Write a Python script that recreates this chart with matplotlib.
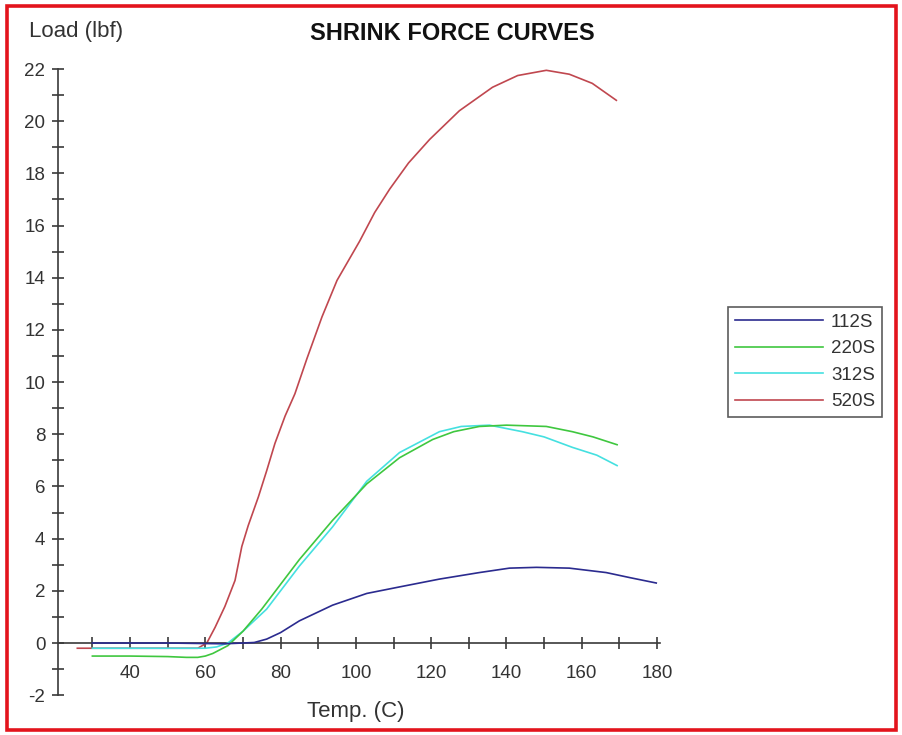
"""
Shrink force curves: load (lbf) vs temperature (C) for four tubing grades.
Values read off the reference chart.
"""

import matplotlib
matplotlib.use("Agg")
import matplotlib.pyplot as plt
from matplotlib.patches import Rectangle

# ── Data ─────────────────────────────────────────────────────────────────────

temp_112 = [30, 40, 50, 60, 65, 70, 73, 76.3, 80, 85, 93.8, 102.9, 111.6,
            122.2, 132.8, 140.8, 148, 156.7, 166.5, 173, 179.8]
load_112 = [0.0, 0.0, 0.0, -0.02, -0.03, 0.0, 0.02, 0.15, 0.4, 0.85, 1.45, 1.9, 2.15,
            2.45, 2.7, 2.87, 2.9, 2.87, 2.7, 2.5, 2.3]

temp_220 = [30, 40, 50, 55, 58, 60, 62, 64, 66, 70, 75, 80, 85, 93.8,
            102.9, 111.6, 120.4, 126, 132.8, 140, 150.6, 157.5, 163, 169.4]
load_220 = [-0.5, -0.5, -0.52, -0.55, -0.55, -0.5, -0.4, -0.25, -0.1, 0.45, 1.3,
            2.25, 3.2, 4.7, 6.1, 7.1, 7.8, 8.1, 8.3, 8.35, 8.3, 8.1, 7.9, 7.6]

temp_312 = [30, 40, 50, 60, 63, 66, 70, 76.3, 85, 93.8, 102.9, 111.6,
            122.2, 128, 135.5, 144.2, 150, 157.5, 164, 169.4]
load_312 = [-0.2, -0.2, -0.2, -0.2, -0.15, 0.0, 0.45, 1.3, 2.95, 4.45, 6.2, 7.3,
            8.1, 8.3, 8.35, 8.1, 7.9, 7.5, 7.2, 6.8]

temp_520 = [26, 30, 40, 50, 58, 60.4, 62.6, 65.2, 67.9, 69.7, 71.4, 74.1,
            76.3, 78.5, 81.2, 83.8, 87, 91, 95, 101, 105, 109, 114, 119.6,
            127.5, 136.3, 143, 150.6, 156.7, 162.8, 169.2]
load_520 = [-0.2, -0.2, -0.2, -0.2, -0.2, 0.0, 0.6, 1.4, 2.4, 3.7, 4.5, 5.6,
            6.6, 7.65, 8.7, 9.55, 10.9, 12.5, 13.9, 15.4, 16.5, 17.4, 18.4,
            19.3, 20.4, 21.3, 21.75, 21.95, 21.8, 21.45, 20.8]

SERIES = [
    ("112S", temp_112, load_112, "#2b2b8f", 5),
    ("220S", temp_220, load_220, "#3fc73f", 4),
    ("312S", temp_312, load_312, "#45e0e0", 3),
    ("520S", temp_520, load_520, "#c0474f", 2),
]

X_TICKS = [40, 60, 80, 100, 120, 140, 160, 180]
X_MINOR = [30, 50, 70, 90, 110, 130, 150, 170]
Y_TICKS = list(range(-2, 23, 2))
Y_MINOR = list(range(-1, 22, 2))

# ── Figure ───────────────────────────────────────────────────────────────────

W, H = 902, 735
plt.rcParams["font.family"] = ["Liberation Sans", "DejaVu Sans"]
plt.rcParams["axes.unicode_minus"] = False

fig = plt.figure(figsize=(W / 100, H / 100), dpi=100)
fig.patch.set_facecolor("white")

# axes box in pixel terms: x 21 -> px 58.5, y -2 -> px 695, y 22 -> px 69
left, right, top, bottom = 58.5, 660.0, 69.0, 695.2
ax = fig.add_axes([left / W, 1 - bottom / H, (right - left) / W, (bottom - top) / H])

for name, t, load, col, z in SERIES:
    ax.plot(t, load, color=col, lw=1.2, label=name, zorder=z)

ax.set_xlim(21, 180.8)
ax.set_ylim(-2, 22)

ax.spines["top"].set_visible(False)
ax.spines["right"].set_visible(False)
ax.spines["bottom"].set_position(("data", 0))
for s in ("left", "bottom"):
    ax.spines[s].set_color("#3a3a3a")
    ax.spines[s].set_linewidth(1.2)

ax.set_xticks(X_TICKS)
ax.set_xticks(X_MINOR, minor=True)
ax.set_yticks(Y_TICKS)
ax.set_yticks(Y_MINOR, minor=True)
ax.tick_params(which="both", direction="inout", length=9, width=1.2,
               color="#3a3a3a", labelsize=13.5, labelcolor="#333333")
ax.tick_params(axis="x", which="major", pad=11)
ax.tick_params(axis="y", which="major", pad=5)

# texts
fig.text(29 / W, 1 - 32 / H, "Load (lbf)", fontsize=16, color="#333333",
         ha="left", va="center")
fig.text(452 / W, 1 - 33 / H, "SHRINK FORCE CURVES", fontsize=17,
         fontweight="bold", color="#111111", ha="center", va="center")
fig.text(356 / W, 1 - 712 / H, "Temp. (C)", fontsize=16, color="#333333",
         ha="center", va="center")

leg = ax.legend(loc="upper left", bbox_to_anchor=(728 / W, 1 - 307 / H),
                bbox_transform=fig.transFigure, borderaxespad=0,
                fancybox=False, frameon=True, fontsize=13.5,
                handlelength=4.7, handletextpad=0.45, labelspacing=0.5,
                borderpad=0.35)
leg.get_frame().set_edgecolor("#333333")
leg.get_frame().set_linewidth(1.2)
for txt in leg.get_texts():
    txt.set_color("#333333")

# red frame round the whole picture
fig.patches.append(Rectangle((6.5 / W, 1 - 729.5 / H), (896 - 6.5) / W,
                             (729.5 - 5.5) / H, transform=fig.transFigure,
                             fill=False, edgecolor="#e3141c", linewidth=2.6))

fig.savefig("out.png", dpi=100)
